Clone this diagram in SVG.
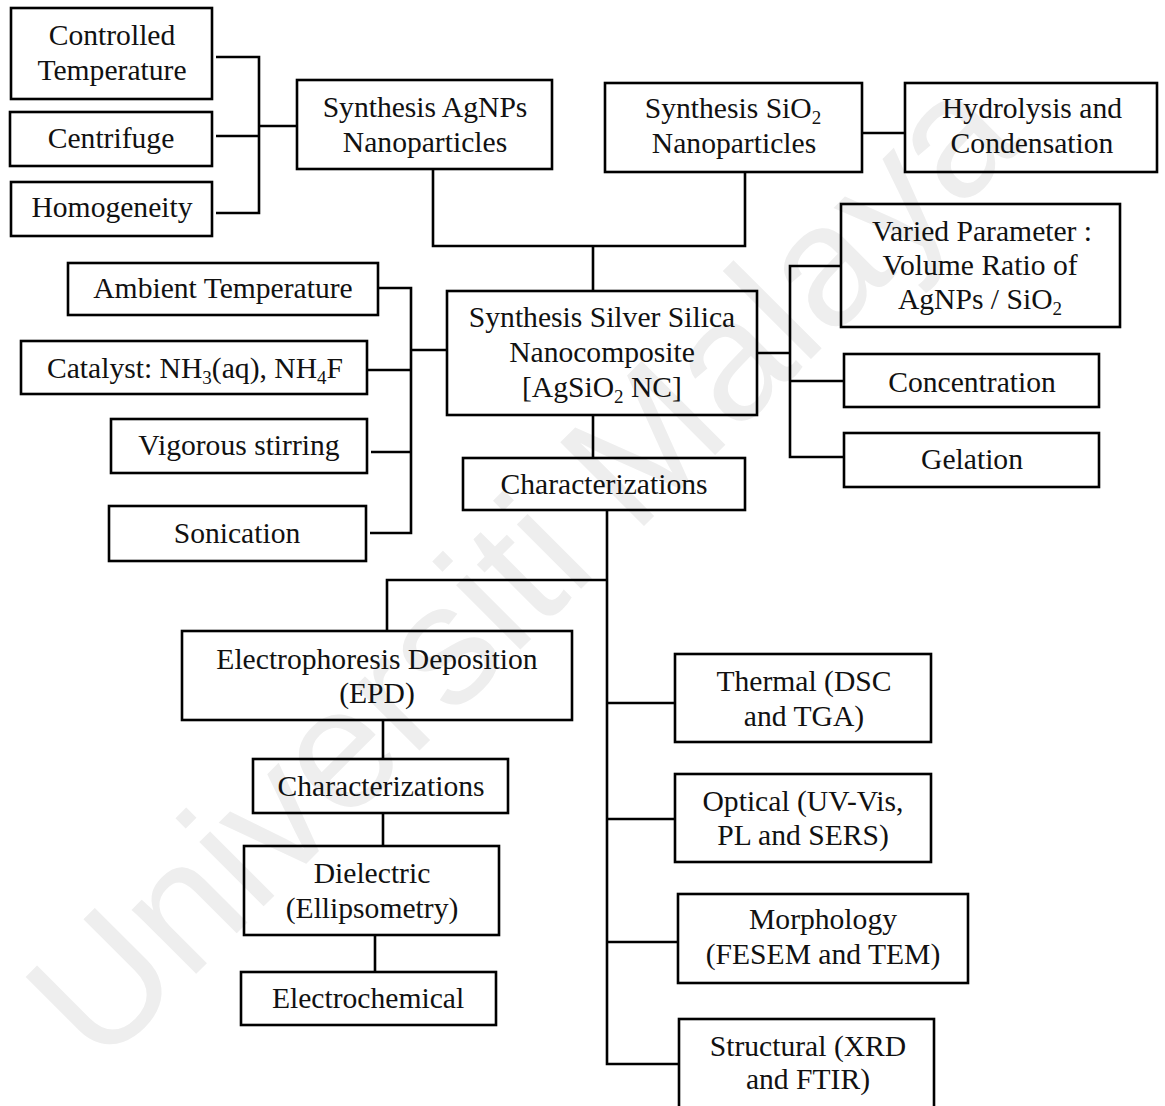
<svg xmlns="http://www.w3.org/2000/svg" width="1165" height="1106" viewBox="0 0 1165 1106">
<style>
.box{fill:none;stroke:#000;stroke-width:2.6}
.t{font-family:"Liberation Serif","Times New Roman",serif;font-size:29.6px;fill:#111;text-anchor:middle}
.con{fill:none;stroke:#000;stroke-width:2.6;stroke-linejoin:miter}
.wm{font-family:"Liberation Sans",Arial,sans-serif;font-size:172px;fill:#eeeeee}
</style>
<rect x="0" y="0" width="1165" height="1106" fill="#fff"/>
<text class="wm" x="100" y="1070" transform="rotate(-45 100 1070)">Universiti Malaya</text>
<g id="connectors">
<path class="con" d="M216,57 H259 V213 H216 M216,136 H259 M259,126 H297"/>
<path class="con" d="M433,169 V246 H745 V172 M593,246 V291"/>
<path class="con" d="M862,133 H905"/>
<path class="con" d="M378,288 H411 V533 H370 M367,370 H411 M371,452 H411 M411,350 H447"/>
<path class="con" d="M757,353 H790 M841,266 H790 V457 H844 M790,381 H844"/>
<path class="con" d="M593,415 V458"/>
<path class="con" d="M607,510 V1064 H679 M607,580 H387 V631 M607,703 H675 M607,819 H675 M607,942 H678"/>
<path class="con" d="M383,720 V759 M383,813 V846 M375,935 V972"/>
</g>
<g id="n-controlled"><rect class="box" x="11" y="8" width="201" height="91"/><text class="t" x="112" y="45">Controlled</text><text class="t" x="112" y="80">Temperature</text></g>
<g id="n-centrifuge"><rect class="box" x="10" y="112" width="202" height="54"/><text class="t" x="111" y="148">Centrifuge</text></g>
<g id="n-homogeneity"><rect class="box" x="11" y="182" width="201" height="54"/><text class="t" x="112" y="217">Homogeneity</text></g>
<g id="n-agnps"><rect class="box" x="297" y="80" width="255" height="89"/><text class="t" x="425" y="117">Synthesis AgNPs</text><text class="t" x="425" y="152">Nanoparticles</text></g>
<g id="n-sio2"><rect class="box" x="605" y="83" width="257" height="89"/><text class="t" x="733" y="118">Synthesis SiO<tspan font-size="19" dy="6">2</tspan></text><text class="t" x="734" y="153">Nanoparticles</text></g>
<g id="n-hydrolysis"><rect class="box" x="905" y="83" width="252" height="89"/><text class="t" x="1032" y="118">Hydrolysis and</text><text class="t" x="1032" y="153">Condensation</text></g>
<g id="n-varied"><rect class="box" x="841" y="204" width="279" height="123"/><text class="t" x="982" y="241">Varied Parameter :</text><text class="t" x="980" y="275">Volume Ratio of</text><text class="t" x="980" y="309">AgNPs / SiO<tspan font-size="19" dy="6">2</tspan></text></g>
<g id="n-ambient"><rect class="box" x="68" y="263" width="310" height="52"/><text class="t" x="223" y="298">Ambient Temperature</text></g>
<g id="n-catalyst"><rect class="box" x="21" y="341" width="346" height="53"/><text class="t" x="195" y="378">Catalyst: NH<tspan font-size="19" dy="6">3</tspan><tspan dy="-6">(aq), NH</tspan><tspan font-size="19" dy="6">4</tspan><tspan dy="-6">F</tspan></text></g>
<g id="n-stirring"><rect class="box" x="111" y="419" width="256" height="54"/><text class="t" x="239" y="455">Vigorous stirring</text></g>
<g id="n-sonication"><rect class="box" x="109" y="506" width="257" height="55"/><text class="t" x="237" y="543">Sonication</text></g>
<g id="n-silversilica"><rect class="box" x="447" y="291" width="310" height="124"/><text class="t" x="602" y="327">Synthesis Silver Silica</text><text class="t" x="602" y="362">Nanocomposite</text><text class="t" x="602" y="397">[AgSiO<tspan font-size="19" dy="6">2</tspan><tspan dy="-6"> NC]</tspan></text></g>
<g id="n-concentration"><rect class="box" x="844" y="354" width="255" height="53"/><text class="t" x="972" y="392">Concentration</text></g>
<g id="n-gelation"><rect class="box" x="844" y="433" width="255" height="54"/><text class="t" x="972" y="469">Gelation</text></g>
<g id="n-char1"><rect class="box" x="463" y="458" width="282" height="52"/><text class="t" x="604" y="494">Characterizations</text></g>
<g id="n-epd"><rect class="box" x="182" y="631" width="390" height="89"/><text class="t" x="377" y="669">Electrophoresis Deposition</text><text class="t" x="377" y="703">(EPD)</text></g>
<g id="n-char2"><rect class="box" x="253" y="759" width="255" height="54"/><text class="t" x="381" y="796">Characterizations</text></g>
<g id="n-dielectric"><rect class="box" x="244" y="846" width="255" height="89"/><text class="t" x="372" y="883">Dielectric</text><text class="t" x="372" y="918">(Ellipsometry)</text></g>
<g id="n-electrochemical"><rect class="box" x="241" y="972" width="255" height="53"/><text class="t" x="368" y="1008">Electrochemical</text></g>
<g id="n-thermal"><rect class="box" x="675" y="654" width="256" height="88"/><text class="t" x="804" y="691">Thermal (DSC</text><text class="t" x="804" y="726">and TGA)</text></g>
<g id="n-optical"><rect class="box" x="675" y="774" width="256" height="88"/><text class="t" x="803" y="811">Optical (UV-Vis,</text><text class="t" x="803" y="845">PL and SERS)</text></g>
<g id="n-morphology"><rect class="box" x="678" y="894" width="290" height="89"/><text class="t" x="823" y="929">Morphology</text><text class="t" x="823" y="964">(FESEM and TEM)</text></g>
<g id="n-structural"><rect class="box" x="679" y="1019" width="255" height="92"/><text class="t" x="808" y="1056">Structural (XRD</text><text class="t" x="808" y="1089">and FTIR)</text></g>
</svg>
